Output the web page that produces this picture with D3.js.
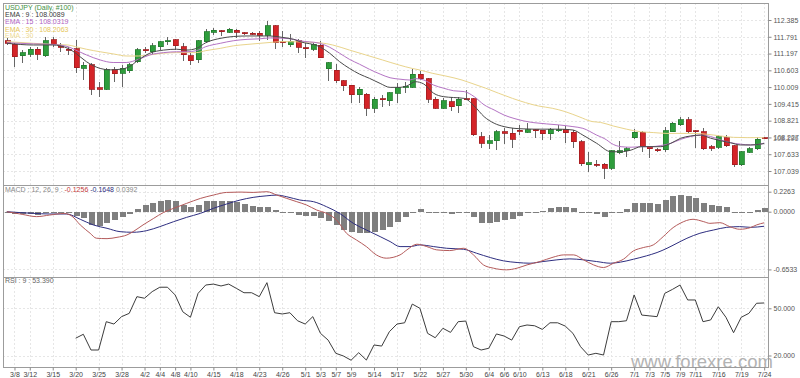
<!DOCTYPE html>
<html>
<head>
<meta charset="utf-8">
<script src="https://cdn.jsdelivr.net/npm/d3@7"></script>
<style>
body { margin: 0; background: #fff; }
svg { display: block; font-family: "Liberation Sans", Arial, sans-serif; }
</style>
</head>
<body>
<div id="chart"></div>
<script>
// daily candles, first one is 3/7
var openP = [111.653,111.535,111.122,111.170,111.347,111.122,111.677,111.453,111.358,111.370,
  110.674,110.792,109.978,109.931,110.627,110.497,110.591,110.910,111.335,111.264,
  111.441,111.618,111.677,111.441,111.122,110.969,111.618,111.948,112.007,111.960,
  112.031,111.925,111.913,111.913,111.842,112.184,111.618,111.512,111.642,111.394,
  111.347,111.488,110.662,110.603,110.226,110.072,109.730,109.754,109.258,109.589,
  109.529,109.789,110.013,110.001,110.473,110.308,109.577,109.258,109.494,109.341,
  109.589,109.589,108.255,108.019,108.113,108.432,108.373,108.479,108.408,108.503,
  108.479,108.349,108.479,108.515,108.408,108.078,107.264,107.276,107.276,107.134,
  107.689,107.759,108.220,108.408,107.901,107.795,107.783,108.432,108.668,108.845,
  108.456,108.432,107.901,107.877,108.208,107.937,107.264,107.700,107.830,108.208];
var highP = [111.736,111.559,111.323,111.441,111.441,111.795,111.771,111.559,111.441,111.677,
  110.910,110.851,110.202,110.674,110.733,110.792,110.851,111.382,111.441,111.559,
  111.653,111.795,111.701,111.559,111.205,111.677,112.055,112.090,112.031,112.090,
  112.055,111.972,111.972,112.007,112.361,112.220,112.007,111.889,111.701,111.583,
  111.583,111.653,110.910,110.827,110.261,110.096,110.001,109.789,109.671,109.730,
  109.848,110.143,110.202,110.650,110.591,110.344,109.647,109.612,109.671,109.671,
  109.907,109.636,108.408,108.314,108.491,108.550,108.550,108.668,108.751,108.538,
  108.503,108.550,108.680,108.633,108.491,108.137,107.724,107.429,107.335,107.795,
  108.113,107.901,108.514,108.455,107.925,107.842,108.609,108.774,108.939,108.963,
  108.491,108.574,107.960,108.314,108.314,107.960,107.748,107.901,108.232,108.244];
var lowP = [111.500,110.733,110.851,111.087,110.969,111.087,111.441,111.264,111.146,110.497,
  110.261,109.730,109.671,109.907,110.202,110.001,110.497,110.851,111.205,111.146,
  111.323,111.500,111.323,110.918,110.792,110.875,111.583,111.866,111.819,111.913,
  111.760,111.854,111.842,111.653,111.677,111.347,111.417,111.441,111.205,111.028,
  111.299,111.028,110.237,110.143,109.883,109.459,109.459,108.987,109.105,109.294,
  109.341,109.459,109.789,109.978,110.261,109.435,109.242,109.242,109.175,109.105,
  109.541,108.290,107.842,107.807,107.783,107.995,107.842,108.314,108.373,108.196,
  108.137,108.137,108.432,108.043,107.842,107.217,107.004,107.169,106.744,107.075,
  107.641,107.547,108.161,107.724,107.488,107.712,107.724,108.408,108.645,108.397,
  107.842,107.783,107.759,107.807,107.901,107.193,107.217,107.665,107.783,108.173];
var closeP = [111.559,111.087,111.229,111.347,111.170,111.653,111.500,111.429,111.335,110.698,
  110.780,109.931,109.931,110.615,110.485,110.674,110.792,111.323,111.299,111.476,
  111.618,111.642,111.476,111.146,110.944,111.642,111.972,112.031,111.996,112.055,
  111.948,111.901,111.901,111.842,112.173,111.583,111.594,111.630,111.417,111.370,
  111.524,111.052,110.875,110.237,110.049,109.742,109.931,109.258,109.577,109.565,
  109.813,109.978,110.037,110.462,110.308,109.577,109.258,109.518,109.317,109.577,
  109.565,108.314,108.019,108.113,108.432,108.373,108.161,108.456,108.503,108.479,
  108.361,108.515,108.503,108.397,108.078,107.299,107.323,107.252,107.134,107.759,
  107.759,107.818,108.408,107.901,107.818,107.771,108.467,108.727,108.845,108.432,
  108.432,107.818,107.842,108.255,107.937,107.264,107.724,107.830,108.161,108.196];

// EMA lines: [candle index, price]
var ema9 = [[0,111.56],[3.5,111.50],[6,111.50],[8,111.38],[9,111.21],[10.4,110.91],[12.2,110.67],[13.5,110.62],[14.8,110.64],[16,110.73],[17.2,110.97],[18.7,111.21],[20.5,111.32],[22.2,111.35],[23.5,111.32],[24.8,111.38],[26,111.58],[28,111.74],[29.6,111.80],[31.4,111.82],[33,111.82],[34.4,111.82],[36,111.77],[37.5,111.70],[38.3,111.62],[40.9,111.44],[42.2,111.21],[43.5,110.91],[44.8,110.67],[46.1,110.47],[47.4,110.32],[48.8,110.14],[50.1,110.00],[51.4,110.00],[52.3,110.05],[53.4,110.20],[54.5,110.12],[55.8,109.79],[57.1,109.67],[58.4,109.64],[59.8,109.61],[61.1,109.34],[62.4,108.96],[63.7,108.73],[65,108.61],[66.3,108.55],[67.6,108.53],[68.9,108.52],[72.2,108.52],[74,108.49],[75.3,108.31],[77.1,108.02],[79,107.72],[80.3,107.72],[81.6,107.78],[82.9,107.90],[85.5,107.90],[86.8,108.02],[88.1,108.20],[89.4,108.28],[90.7,108.31],[92,108.20],[93.3,108.11],[94.6,108.04],[95.9,107.96],[97.2,107.96],[98.5,107.99],[99,108.01]];
var ema15 = [[0,111.58],[3.5,111.54],[6,111.52],[8,111.44],[9,111.32],[10.4,111.15],[12.2,110.97],[13.9,110.88],[15.6,110.88],[17.2,110.99],[18.7,111.15],[20.5,111.23],[22.2,111.26],[23.5,111.26],[24.8,111.30],[26,111.44],[27.9,111.56],[29.6,111.65],[31.4,111.70],[33.1,111.72],[34.4,111.75],[36.1,111.74],[37.5,111.70],[38.3,111.65],[40.9,111.56],[42.2,111.42],[43.5,111.21],[44.8,110.99],[46.1,110.82],[47.4,110.64],[48.8,110.47],[50.1,110.34],[51.4,110.29],[52.7,110.26],[53.4,110.31],[54.5,110.26],[55.8,110.08],[57.1,109.97],[58.4,109.88],[59.8,109.85],[61.1,109.67],[62.4,109.38],[63.7,109.20],[65,109.02],[66.3,108.90],[67.6,108.81],[68.9,108.75],[72.2,108.67],[74,108.61],[75.3,108.55],[77.1,108.31],[78.4,108.14],[79,108.02],[80.3,107.90],[81.6,107.88],[82.9,107.90],[84.2,107.90],[85.5,107.94],[86.8,108.02],[88.1,108.16],[89.4,108.26],[90.7,108.31],[92,108.26],[93.3,108.14],[94.6,108.04],[95.9,107.99],[97.2,107.96],[98.5,107.99],[99,108.03]];
var ema30 = [[0,111.62],[3.5,111.56],[6,111.52],[8,111.50],[9,111.44],[10.4,111.35],[12.2,111.26],[14,111.18],[15.7,111.11],[17.2,111.11],[18.7,111.15],[20.5,111.21],[22.2,111.23],[24.8,111.23],[26,111.30],[27.9,111.38],[29.6,111.47],[31.4,111.52],[33.1,111.56],[34.4,111.59],[36.1,111.62],[38.3,111.61],[40.9,111.58],[42.6,111.50],[44.8,111.32],[46.9,111.15],[49.1,110.97],[51.3,110.79],[53,110.67],[53.9,110.62],[55.6,110.50],[57.4,110.40],[59.5,110.26],[60.8,110.14],[62.6,109.97],[64.3,109.79],[66.1,109.61],[67.8,109.46],[69.5,109.34],[71.3,109.26],[73,109.14],[74.8,108.96],[76.5,108.79],[77.6,108.76],[79.3,108.63],[81,108.52],[82.8,108.43],[84.5,108.40],[86.3,108.37],[88,108.37],[89.8,108.37],[91.5,108.34],[93.3,108.28],[95,108.23],[96.8,108.22],[98.5,108.22],[99,108.21]];

// MACD 12,26,9
var macdHist = [-0.008,-0.026,-0.030,-0.030,-0.038,-0.008,-0.004,-0.004,-0.004,-0.049,
  -0.075,-0.150,-0.162,-0.132,-0.094,-0.064,-0.030,0.026,0.071,0.102,
  0.124,0.132,0.117,0.079,0.049,0.071,0.117,0.120,0.120,0.117,
  0.105,0.086,0.064,0.056,0.049,0.019,-0.008,-0.011,-0.034,-0.045,
  -0.049,-0.068,-0.102,-0.150,-0.207,-0.226,-0.237,-0.244,-0.226,-0.207,
  -0.177,-0.113,-0.056,-0.004,0.026,-0.008,-0.019,-0.019,-0.026,-0.008,
  -0.004,-0.056,-0.124,-0.132,-0.120,-0.094,-0.086,-0.045,-0.019,-0.008,
  0.011,0.038,0.056,0.056,0.045,-0.011,-0.019,-0.030,-0.056,-0.011,
  -0.004,0.030,0.094,0.094,0.094,0.086,0.132,0.177,0.192,0.177,
  0.150,0.102,0.075,0.064,0.049,-0.008,-0.008,-0.004,0.019,0.039];
var macdLine = [[0,0],[2,-0.03],[3.9,-0.056],[5.6,-0.038],[7.5,-0.02],[8.5,-0.05],[9.6,-0.15],[10.9,-0.245],[11.7,-0.30],[13.1,-0.305],[14.4,-0.29],[15.7,-0.263],[16.5,-0.226],[17.8,-0.15],[19.2,-0.075],[20.5,-0.008],[21.8,0.038],[23.5,0.094],[25.3,0.15],[27,0.188],[28.7,0.218],[30.5,0.222],[32.2,0.218],[34,0.226],[35.3,0.188],[36.6,0.15],[37.9,0.113],[39.2,0.075],[40.5,0.019],[41.8,-0.019],[43.1,-0.094],[44.4,-0.244],[45.7,-0.32],[47,-0.395],[48.3,-0.489],[49.6,-0.526],[51.4,-0.489],[52.3,-0.432],[53.6,-0.368],[54.9,-0.395],[56.2,-0.432],[57.9,-0.44],[59.7,-0.414],[61,-0.489],[62.3,-0.602],[63.6,-0.639],[65.3,-0.658],[66.7,-0.639],[68,-0.602],[69.7,-0.564],[71.4,-0.515],[72.8,-0.489],[74.1,-0.489],[75.4,-0.545],[76.7,-0.602],[78,-0.632],[79.3,-0.583],[80.6,-0.538],[81.9,-0.444],[83.2,-0.406],[84.5,-0.376],[85.8,-0.282],[87.1,-0.18],[88,-0.132],[89.7,-0.086],[91.1,-0.113],[91.9,-0.132],[93.2,-0.124],[94.5,-0.169],[95.8,-0.199],[97.2,-0.18],[98,-0.15],[99,-0.1256]];
var signalLine = [[0,0],[3.5,-0.019],[5.6,-0.026],[7.8,-0.026],[9.6,-0.086],[11.3,-0.15],[13.1,-0.188],[14.8,-0.226],[16.5,-0.233],[18.3,-0.214],[20,-0.169],[21.8,-0.113],[23.5,-0.064],[25.3,-0.019],[27,0.038],[28.7,0.086],[30.5,0.132],[32.2,0.162],[34,0.18],[35.3,0.188],[36.6,0.169],[38.3,0.132],[40.1,0.113],[41.8,0.056],[43.5,-0.019],[45.3,-0.132],[47,-0.207],[48.8,-0.282],[50.1,-0.338],[51.4,-0.395],[52.7,-0.395],[54,-0.376],[55.8,-0.395],[57.5,-0.414],[59.7,-0.425],[61.4,-0.47],[63.2,-0.519],[64.9,-0.556],[66.7,-0.575],[68.4,-0.583],[70.1,-0.564],[71.9,-0.545],[73.6,-0.534],[75.4,-0.545],[77.1,-0.564],[78.9,-0.583],[80.2,-0.571],[81.9,-0.538],[83.6,-0.5],[85,-0.462],[86.3,-0.414],[87.6,-0.357],[88.9,-0.301],[90.6,-0.244],[92.4,-0.207],[94.1,-0.177],[95.8,-0.169],[97.2,-0.177],[99,-0.1648]];

// RSI 9: [candle index, value]
var rsi = [[9,31],[10,33.5],[11,23.5],[12,23.5],[13,41.5],[14,40],[15,44.7],[16,46.8],[17,57.4],[18,56.4],[19,60.6],[20,63.4],[21,63.4],[22,58.5],[23,47.8],[24,44.3],[25,59.5],[26,64.8],[27,65.4],[28,64.2],[29,65.4],[30,62.7],[31,59.9],[32,59.9],[33,57.4],[34,66.3],[35,47.2],[36,46.4],[37,47.2],[38,42.1],[39,40],[40,44.7],[41,34.1],[42,29.8],[43,21.4],[44,19.7],[45,17],[46,21.8],[47,17.1],[48,26.7],[49,26],[50,35.1],[51,40],[52,40.8],[53,52.7],[54,50],[55,34.1],[56,31.3],[57,37.3],[58,34.7],[59,41.5],[60,41.9],[61,25.6],[62,23.5],[63,24.6],[64,33.7],[65,32.4],[66,29.8],[67,38.3],[68,39.4],[69,38.9],[70,36.6],[71,40.8],[72,40.8],[73,38.7],[74,34.1],[75,25.6],[76,20.3],[77,21.4],[78,20.3],[79,41.5],[80,41.5],[81,42.1],[82,58.5],[83,45.7],[84,45.2],[85,44.7],[86,59.5],[87,62],[88,64.8],[89,55.3],[90,55.3],[91,41.5],[92,42.6],[93,51],[94,44.3],[95,34.5],[96,44.3],[97,46.8],[98,53.2],[99,53.39]];

var dateTicks = ["3/8","3/12","3/15","3/20","3/25","3/28","4/2","4/4","4/8","4/10","4/15","4/18","4/23","4/26","5/1","5/3","5/7","5/9","5/14","5/17","5/22","5/27","5/30","6/4","6/6","6/10","6/13","6/18","6/21","6/26","7/1","7/3","7/5","7/9","7/11","7/16","7/19","7/24"];
var priceTicks = [112.385,111.791,111.197,110.603,110.009,109.415,108.821,108.227,107.633,107.039];
var macdTicks = [0.2263,0,-0.6533];
var rsiTicks = [50,20];

function drawChart() {
    var width = 800, height = 378;
    var left = 3, right = 768;
    var n = closeP.length;

    var svg = d3.select("#chart").append("svg")
        .attr("width", width)
        .attr("height", height);

    var x = d3.scaleLinear().domain([-0.5, n - 0.5]).range([left, right]);
    var yPrice = d3.scaleLinear().domain([106.543, 112.987]).range([185, 3]);
    var yMacd = d3.scaleLinear().domain([-0.739, 0.302]).range([277, 185]);
    var yRsi = d3.scaleLinear().domain([12.7, 69.9]).range([367, 277]);

    // candle dates, weekdays only
    var dates = [];
    var day = new Date(2019, 2, 7);
    while (dates.length < n) {
        if (day.getDay() != 0 && day.getDay() != 6) dates.push((day.getMonth() + 1) + "/" + day.getDate());
        day = d3.timeDay.offset(day, 1);
    }
    var tickIdx = dateTicks.map(d => dates.indexOf(d));

    // grid
    var grid = svg.append("g")
        .attr("stroke", "#e6e6e6")
        .attr("stroke-dasharray", "2,2")
        .attr("shape-rendering", "crispEdges");
    grid.selectAll(".vg").data(tickIdx).enter().append("line")
        .attr("x1", d => Math.round(x(d)) + 0.5).attr("x2", d => Math.round(x(d)) + 0.5)
        .attr("y1", 3).attr("y2", 367);
    function hgrid(scale, ticks) {
        grid.selectAll(null).data(ticks).enter().append("line")
            .attr("x1", left).attr("x2", right)
            .attr("y1", d => Math.round(scale(d)) + 0.5).attr("y2", d => Math.round(scale(d)) + 0.5);
    }
    hgrid(yPrice, priceTicks);
    hgrid(yMacd, macdTicks);
    hgrid(yRsi, rsiTicks);

    // watermark, behind the marks
    svg.append("text")
        .attr("x", 631).attr("y", 368)
        .attr("font-size", 18.5)
        .attr("fill", "#9a9a9a")
        .attr("opacity", 0.75)
        .text("www.forexre.com");

    // candles
    var idx = d3.range(n);
    var cx = i => Math.round(x(i)) + 0.5;
    var candles = svg.append("g").attr("shape-rendering", "crispEdges");
    candles.selectAll(".wick").data(idx).enter().append("line")
        .attr("x1", cx).attr("x2", cx)
        .attr("y1", i => yPrice(highP[i])).attr("y2", i => yPrice(lowP[i]))
        .attr("stroke", "#666");
    candles.selectAll(".body").data(idx).enter().append("rect")
        .attr("x", i => cx(i) - 2.5)
        .attr("width", 5)
        .attr("y", i => yPrice(Math.max(openP[i], closeP[i])))
        .attr("height", i => Math.max(1, Math.abs(yPrice(openP[i]) - yPrice(closeP[i]))))
        .attr("fill", i => closeP[i] >= openP[i] ? "#2e9d3c" : "#d42428")
        .attr("stroke", i => closeP[i] >= openP[i] ? "#207a2c" : "#a01c1e")
        .attr("stroke-width", 0.8);

    var line = d3.line()
        .x(d => x(d[0]))
        .curve(d3.curveMonotoneX);

    svg.append("path").datum(ema30).attr("fill", "none").attr("stroke", "#e9d48c").attr("stroke-width", 1)
        .attr("d", line.y(d => yPrice(d[1])));
    svg.append("path").datum(ema15).attr("fill", "none").attr("stroke", "#b474c4").attr("stroke-width", 1)
        .attr("d", line.y(d => yPrice(d[1])));
    svg.append("path").datum(ema9).attr("fill", "none").attr("stroke", "#4a4a4a").attr("stroke-width", 1)
        .attr("d", line.y(d => yPrice(d[1])));

    // macd histogram
    svg.append("g").attr("shape-rendering", "crispEdges")
        .selectAll("rect").data(idx).enter().append("rect")
        .attr("x", i => Math.round(x(i)) - 2.5)
        .attr("width", 6)
        .attr("y", i => Math.min(yMacd(0), yMacd(macdHist[i])))
        .attr("height", i => Math.max(1, Math.abs(yMacd(macdHist[i]) - yMacd(0))))
        .attr("fill", "#7f7f7f");

    svg.append("path").datum(signalLine).attr("fill", "none").attr("stroke", "#2e2e80").attr("stroke-width", 1)
        .attr("d", line.y(d => yMacd(d[1])));
    svg.append("path").datum(macdLine).attr("fill", "none").attr("stroke", "#b45a5a").attr("stroke-width", 1)
        .attr("d", line.y(d => yMacd(d[1])));

    // rsi
    svg.append("path").datum(rsi).attr("fill", "none").attr("stroke", "#3c3c3c").attr("stroke-width", 1)
        .attr("d", d3.line().x(d => x(d[0])).y(d => yRsi(d[1])));

    // frames
    var frame = svg.append("g").attr("stroke", "#9c9c9c").attr("fill", "none").attr("shape-rendering", "crispEdges");
    frame.append("rect").attr("x", left + 0.5).attr("y", 3.5).attr("width", right - left).attr("height", 364);
    frame.append("line").attr("x1", left).attr("x2", right).attr("y1", 185.5).attr("y2", 185.5);
    frame.append("line").attr("x1", left).attr("x2", right).attr("y1", 277.5).attr("y2", 277.5);

    // axes
    function rightAxis(scale, ticks, digits) {
        svg.append("g")
            .attr("transform", "translate(" + (right + 0.5) + ",0)")
            .call(d3.axisRight(scale).tickValues(ticks).tickFormat(d => d.toFixed(digits)).tickSize(3).tickPadding(2))
            .call(g => g.select(".domain").remove())
            .call(g => g.selectAll("line").attr("stroke", "#888"))
            .call(g => g.selectAll("text").attr("font-size", 7).attr("fill", "#555")
                .attr("font-family", "Liberation Sans, Arial, sans-serif"));
    }
    rightAxis(yPrice, priceTicks, 3);
    rightAxis(yMacd, macdTicks, 4);
    rightAxis(yRsi, rsiTicks, 3);

    // last close label, overlaps the tick like the original
    svg.append("text")
        .attr("x", right + 5).attr("y", yPrice(closeP[n - 1]))
        .attr("dy", "0.32em")
        .attr("font-size", 7).attr("fill", "#777")
        .text(closeP[n - 1].toFixed(3));

    svg.append("g")
        .attr("transform", "translate(0,367.5)")
        .call(d3.axisBottom(x).tickValues(tickIdx).tickFormat(i => dates[i]).tickSize(3).tickPadding(2))
        .call(g => g.select(".domain").remove())
        .call(g => g.selectAll("line").attr("stroke", "#888"))
        .call(g => g.selectAll("text").attr("font-size", 7).attr("fill", "#444")
            .attr("font-family", "Liberation Sans, Arial, sans-serif"));

    // titles
    var titles = [
        ["USDJPY (Daily, #100)", "#3f913f", 9.5],
        ["EMA : 9 : 108.0089", "#3a3a3a", 16.5],
        ["EMA : 15 : 108.0319", "#b063c4", 24],
        ["EMA : 30 : 108.2063", "#e6c65a", 31.5],
        ["EMA : 30", "#efdc96", 37.5]
    ];
    svg.selectAll(".title").data(titles).enter().append("text")
        .attr("x", 5).attr("y", d => d[2])
        .attr("font-size", 7)
        .attr("fill", d => d[1])
        .text(d => d[0]);

    var mt = svg.append("text").attr("x", 5).attr("y", 192).attr("font-size", 7).attr("fill", "#888");
    mt.append("tspan").text("MACD : 12, 26, 9 : ");
    mt.append("tspan").attr("fill", "#c43a3a").text("-0.1256 ");
    mt.append("tspan").attr("fill", "#2e2e80").text("-0.1648 ");
    mt.append("tspan").attr("fill", "#888").text("0.0392");

    svg.append("text").attr("x", 5).attr("y", 283).attr("font-size", 7).attr("fill", "#666")
        .text("RSI : 9 : 53.390");
}

window.onload = drawChart;
</script>
</body>
</html>
